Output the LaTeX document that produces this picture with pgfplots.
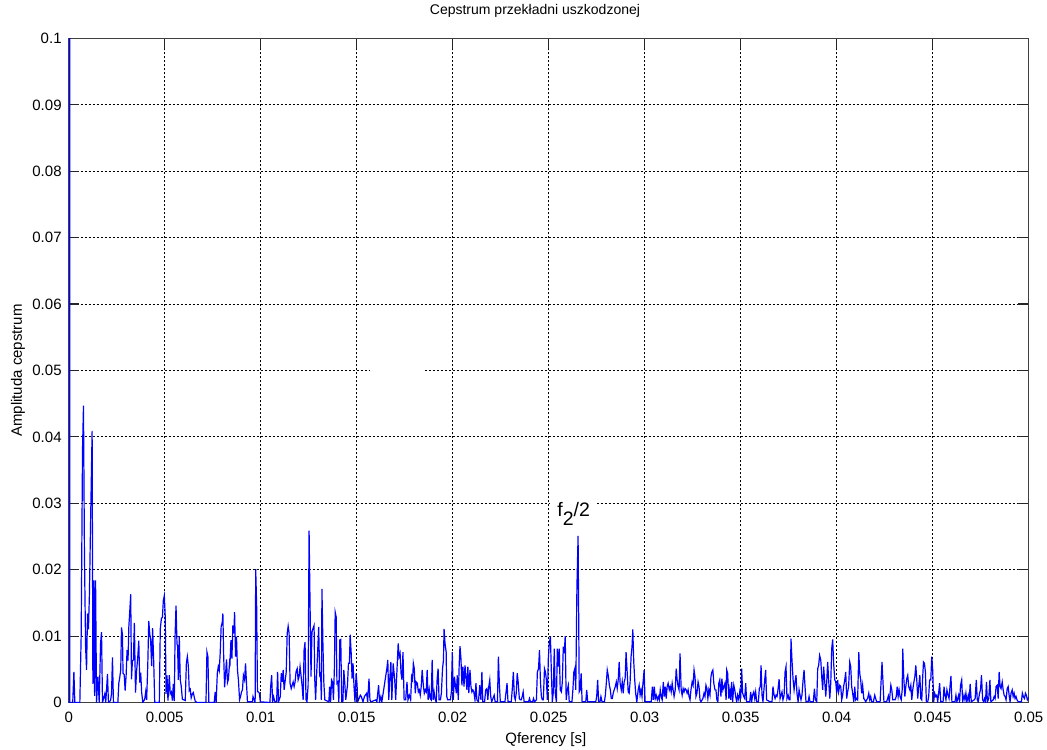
\documentclass[border=0pt]{standalone}
\usepackage{fontspec}
\setmainfont{Liberation Sans}
\usepackage{pgfplots}
\pgfplotsset{compat=1.18}
\begin{document}
\begin{tikzpicture}
\path[use as bounding box] (-34.35pt,-23.25pt) rectangle (489.15pt,351.25pt);
\begin{axis}[
  at={(0pt,0pt)}, anchor=south west,
  scale only axis, width=480pt, height=332pt,
  xmin=0, xmax=0.05, ymin=0, ymax=0.1,
  xtick={0,0.005,0.01,0.015,0.02,0.025,0.03,0.035,0.04,0.045,0.05},
  xticklabels={0,0.005,0.01,0.015,0.02,0.025,0.03,0.035,0.04,0.045,0.05},
  ytick={0,0.01,0.02,0.03,0.04,0.05,0.06,0.07,0.08,0.09,0.1},
  yticklabels={0,0.01,0.02,0.03,0.04,0.05,0.06,0.07,0.08,0.09,0.1},
  scaled ticks=false,
  tick align=inside, tick pos=both,
  major tick length=5.25pt,
  grid=major,
  major grid style={black, line width=0.45pt, dash pattern=on 1pt off 1pt},
  axis line style={black!75, line width=0.75pt},
  tick style={black!85, line width=0.6pt},
  ticklabel style={font=\fontsize{7.5}{9}\selectfont},
  xticklabel style={inner sep=0pt, anchor=north, yshift=-4.75pt},
  yticklabel style={inner sep=0pt, anchor=east, xshift=-3.35pt},
  title={Cepstrum przekładni uszkodzonej},
  title style={font=\fontsize{7}{8.4}\selectfont, at={(0.4857,1.0188)}, anchor=base, inner sep=0pt},
  xlabel={Qferency [s]},
  xlabel style={font=\fontsize{7.5}{9}\selectfont, at={(0.497,-0.061)}, anchor=base, inner sep=0pt},
  ylabel={Amplituda cepstrum},
  ylabel style={font=\fontsize{7.5}{9}\selectfont, at={(-0.04865,0.5)}, anchor=base, rotate=0, inner sep=0pt},
]
\fill[white] (axis cs:0.01571,0.0496) rectangle (axis cs:0.01857,0.0504);
\addplot[color={rgb,255:red,0;green,0;blue,255}, line width=0.6pt, mark=none] coordinates {
(0.00005,0.25) (0.00005,0.0) (0.00021,0.0) (0.00027,0.0046) (0.00032,0.0) (0.00058,0.0)
(0.00065,0.0101) (0.00072,0.0381) (0.00077,0.0447) (0.00082,0.0224) (0.00088,0.0084)
(0.00093,0.0049) (0.00098,0.0134) (0.00103,0.0110) (0.00108,0.0164) (0.00115,0.0289)
(0.00122,0.0409) (0.00126,0.0028) (0.00131,0.0184) (0.00135,0.0010) (0.00140,0.0184)
(0.00145,0.0) (0.00152,0.0039) (0.00159,0.0) (0.00166,0.0089) (0.00171,0.0106)
(0.00176,0.0) (0.00188,0.0013) (0.00193,0.0) (0.00202,0.0043) (0.00207,0.0)
(0.00218,0.0003) (0.00223,0.0013) (0.00228,0.0068) (0.00233,0.0) (0.00256,0.0)
(0.00261,0.0029) (0.00266,0.0038) (0.00271,0.0049) (0.00275,0.0113) (0.00280,0.0102)
(0.00283,0.0044) (0.00289,0.0042) (0.00294,0.0018) (0.00299,0.0040) (0.00304,0.0079)
(0.00309,0.0063) (0.00313,0.0113) (0.00318,0.0137) (0.00323,0.0163) (0.00327,0.0035)
(0.00332,0.0063) (0.00337,0.0064) (0.00342,0.0120) (0.00348,0.0015) (0.00353,0.0045)
(0.00360,0.0070) (0.00365,0.0093) (0.00370,0.0030) (0.00375,0.0045) (0.00380,0.0015)
(0.00386,0.0) (0.00396,0.0005) (0.00401,0.0016) (0.00406,0.0004) (0.00412,0.0058)
(0.00417,0.0123) (0.00422,0.0104) (0.00427,0.0092) (0.00432,0.0055) (0.00437,0.0112)
(0.00443,0.0059) (0.00448,0.0) (0.00472,0.0) (0.00477,0.0111) (0.00483,0.0127)
(0.00488,0.0128) (0.00493,0.0154) (0.00498,0.0161) (0.00503,0.0128) (0.00507,0.0013)
(0.00512,0.0041) (0.00517,0.0003) (0.00524,0.0041) (0.00529,0.0013) (0.00535,0.0016)
(0.00540,0.0003) (0.00545,0.0028) (0.00550,0.0002) (0.00554,0.0100) (0.00559,0.0146)
(0.00564,0.0088) (0.00567,0.0086) (0.00571,0.0034) (0.00576,0.0100) (0.00581,0.0034)
(0.00586,0.0025) (0.00592,0.0005) (0.00607,0.0003) (0.00613,0.0060) (0.00618,0.0069)
(0.00623,0.0055) (0.00628,0.0018) (0.00633,0.0020) (0.00638,0.0007) (0.00644,0.0013)
(0.00649,0.0015) (0.00654,0.0008) (0.00659,0.0002) (0.00668,0.0) (0.00715,0.0)
(0.00720,0.0076) (0.00725,0.0069) (0.00730,0.0) (0.00758,0.0) (0.00763,0.0016)
(0.00768,0.0) (0.00774,0.0044) (0.00779,0.0054) (0.00784,0.0048) (0.00789,0.0074)
(0.00794,0.0114) (0.00800,0.0121) (0.00803,0.0134) (0.00807,0.0072) (0.00812,0.0023)
(0.00817,0.0043) (0.00822,0.0065) (0.00827,0.0030) (0.00832,0.0035) (0.00838,0.0061)
(0.00840,0.0059) (0.00845,0.0094) (0.00850,0.0066) (0.00855,0.0116) (0.00860,0.0104)
(0.00864,0.0136) (0.00869,0.0069) (0.00874,0.0099) (0.00879,0.0049) (0.00884,0.0034)
(0.00890,0.0004) (0.00895,0.0009) (0.00900,0.0016) (0.00905,0.0019) (0.00910,0.0041)
(0.00916,0.0034) (0.00921,0.0059) (0.00926,0.0029) (0.00931,0.0001) (0.00957,0.0001)
(0.00960,0.0009) (0.00966,0.0004) (0.00971,0.0) (0.00974,0.0201) (0.00979,0.0144)
(0.00983,0.0016) (0.00988,0.0016) (0.00993,0.0014) (0.00998,0.0001) (0.01048,0.0)
(0.01052,0.0024) (0.01057,0.0041) (0.01062,0.0001) (0.01067,0.0009) (0.01074,0.0001)
(0.01083,0.0001) (0.01088,0.0046) (0.01093,0.0001) (0.01102,0.0009) (0.01107,0.0044)
(0.01112,0.0031) (0.01117,0.0049) (0.01122,0.0019) (0.01128,0.0034) (0.01133,0.0046)
(0.01138,0.0104) (0.01143,0.0115) (0.01148,0.0104) (0.01153,0.0029) (0.01159,0.0021)
(0.01164,0.0026) (0.01169,0.0031) (0.01174,0.0024) (0.01179,0.0031) (0.01184,0.0046)
(0.01190,0.0051) (0.01195,0.0034) (0.01200,0.0039) (0.01205,0.0054) (0.01210,0.0041)
(0.01216,0.0024) (0.01221,0.0004) (0.01226,0.0079) (0.01231,0.0091) (0.01236,0.0004)
(0.01241,0.0001) (0.01247,0.0026) (0.01252,0.0259) (0.01257,0.0149) (0.01262,0.0039)
(0.01267,0.0106) (0.01272,0.0111) (0.01278,0.0116) (0.01281,0.0039) (0.01286,0.0004)
(0.01291,0.0041) (0.01297,0.0079) (0.01302,0.0114) (0.01307,0.0041) (0.01312,0.0044)
(0.01316,0.0004) (0.01319,0.0171) (0.01324,0.0089) (0.01329,0.0029) (0.01334,0.0004)
(0.01355,0.0001) (0.01359,0.0024) (0.01364,0.0001) (0.01369,0.0034) (0.01374,0.0031)
(0.01379,0.0004) (0.01384,0.0054) (0.01388,0.0136) (0.01393,0.0129) (0.01397,0.0029)
(0.01402,0.0031) (0.01407,0.0001) (0.01412,0.0094) (0.01417,0.0095) (0.01422,0.0001)
(0.01428,0.0001) (0.01433,0.0049) (0.01438,0.0029) (0.01443,0.0004) (0.01452,0.0026)
(0.01457,0.0059) (0.01462,0.0059) (0.01466,0.0102) (0.01471,0.0076) (0.01476,0.0036)
(0.01481,0.0059) (0.01486,0.0024) (0.01491,0.0001) (0.01497,0.0044) (0.01502,0.0026)
(0.01505,0.0001) (0.01519,0.0011) (0.01524,0.0009) (0.01533,0.0001) (0.01540,0.0009)
(0.01552,0.0014) (0.01557,0.0001) (0.01564,0.0036) (0.01569,0.0004) (0.01574,0.0001)
(0.01600,0.0004) (0.01605,0.0001) (0.01614,0.0026) (0.01619,0.0001) (0.01626,0.0009)
(0.01631,0.0001) (0.01657,0.0051) (0.01662,0.0064) (0.01667,0.0004) (0.01672,0.0034)
(0.01678,0.0061) (0.01683,0.0004) (0.01690,0.0059)
(0.01698,0.0034) (0.01703,0.0004) (0.01709,0.0044) (0.01716,0.0089) (0.01721,0.0069)
(0.01726,0.0074) (0.01731,0.0044) (0.01736,0.0034) (0.01741,0.0076) (0.01747,0.0004)
(0.01755,0.0004) (0.01762,0.0031) (0.01767,0.0004) (0.01774,0.0011) (0.01781,0.0004)
(0.01786,0.0039) (0.01791,0.0034) (0.01795,0.0059) (0.01800,0.0051) (0.01805,0.0014)
(0.01810,0.0031) (0.01816,0.0029) (0.01821,0.0016) (0.01826,0.0019) (0.01831,0.0011)
(0.01836,0.0024) (0.01841,0.0049) (0.01847,0.0026) (0.01852,0.0014) (0.01857,0.0019)
(0.01862,0.0016) (0.01867,0.0049) (0.01872,0.0004) (0.01878,0.0019) (0.01883,0.0006)
(0.01888,0.0004) (0.01893,0.0064) (0.01898,0.0004) (0.01903,0.0016) (0.01909,0.0004)
(0.01914,0.0001) (0.01919,0.0036) (0.01924,0.0051) (0.01929,0.0004) (0.01936,0.0004)
(0.01941,0.0014) (0.01947,0.0051) (0.01952,0.0064) (0.01955,0.0111) (0.01960,0.0089)
(0.01966,0.0076) (0.01969,0.0009) (0.01974,0.0004) (0.01988,0.0004) (0.01993,0.0016)
(0.01998,0.0076) (0.02003,0.0004) (0.02009,0.0039) (0.02014,0.0026) (0.02019,0.0014)
(0.02024,0.0041) (0.02029,0.0004) (0.02034,0.0059) (0.02038,0.0085) (0.02043,0.0066)
(0.02048,0.0026) (0.02053,0.0054) (0.02059,0.0024) (0.02064,0.0056) (0.02069,0.0039)
(0.02074,0.0019) (0.02079,0.0054) (0.02084,0.0014) (0.02090,0.0049) (0.02095,0.0024)
(0.02100,0.0016) (0.02105,0.0019) (0.02110,0.0016) (0.02116,0.0004) (0.02121,0.0029)
(0.02126,0.0004) (0.02134,0.0001) (0.02141,0.0026) (0.02147,0.0004) (0.02152,0.0046)
(0.02157,0.0001) (0.02166,0.0001) (0.02172,0.0019) (0.02178,0.0021) (0.02183,0.0004)
(0.02188,0.0024) (0.02193,0.0034) (0.02198,0.0009) (0.02203,0.0001) (0.02216,0.0011)
(0.02221,0.0001) (0.02233,0.0001) (0.02238,0.0069) (0.02243,0.0028) (0.02248,0.0001)
(0.02272,0.0001) (0.02278,0.0016) (0.02283,0.0029) (0.02288,0.0001) (0.02305,0.0001)
(0.02310,0.0019) (0.02316,0.0046) (0.02321,0.0009) (0.02326,0.0004) (0.02331,0.0014)
(0.02336,0.0044) (0.02341,0.0031) (0.02347,0.0006) (0.02352,0.0004) (0.02357,0.0004)
(0.02362,0.0009) (0.02367,0.0016) (0.02372,0.0001) (0.02395,0.0001) (0.02400,0.0006)
(0.02405,0.0001) (0.02416,0.0001) (0.02421,0.0006) (0.02426,0.0001) (0.02436,0.0004)
(0.02441,0.0046) (0.02447,0.0051) (0.02452,0.0079) (0.02457,0.0031) (0.02462,0.0009)
(0.02467,0.0004) (0.02472,0.0004) (0.02478,0.0051) (0.02483,0.0046) (0.02488,0.0034)
(0.02493,0.0004) (0.02498,0.0066) (0.02503,0.0089) (0.02509,0.0099) (0.02514,0.0044)
(0.02519,0.0001) (0.02524,0.0016) (0.02529,0.0081) (0.02534,0.0014) (0.02540,0.0001)
(0.02545,0.0081) (0.02550,0.0054)
(0.02555,0.0081) (0.02560,0.0019) (0.02566,0.0016) (0.02571,0.0031) (0.02576,0.0084)
(0.02581,0.0074) (0.02586,0.0100) (0.02591,0.0004) (0.02597,0.0019) (0.02602,0.0026)
(0.02607,0.0001) (0.02621,0.0001) (0.02626,0.0019) (0.02631,0.0046) (0.02636,0.0051)
(0.02641,0.0019) (0.02647,0.0174) (0.02653,0.0251) (0.02659,0.0016) (0.02664,0.0019)
(0.02669,0.0044) (0.02674,0.0001) (0.02693,0.0001) (0.02698,0.0019) (0.02703,0.0001)
(0.02745,0.0001) (0.02750,0.0009) (0.02755,0.0034) (0.02760,0.0001) (0.02767,0.0001)
(0.02772,0.0009) (0.02778,0.0001) (0.02790,0.0001) (0.02795,0.0011) (0.02800,0.0029)
(0.02805,0.0049) (0.02810,0.0041) (0.02816,0.0026) (0.02821,0.0019) (0.02826,0.0006)
(0.02831,0.0006) (0.02836,0.0014) (0.02841,0.0019) (0.02847,0.0024) (0.02852,0.0031)
(0.02857,0.0021) (0.02862,0.0034) (0.02867,0.0061) (0.02872,0.0029) (0.02878,0.0019)
(0.02883,0.0031) (0.02888,0.0014) (0.02893,0.0031) (0.02898,0.0036) (0.02903,0.0076)
(0.02909,0.0044) (0.02914,0.0016) (0.02919,0.0014) (0.02924,0.0031) (0.02929,0.0069)
(0.02934,0.0084) (0.02938,0.0110) (0.02943,0.0061) (0.02948,0.0034) (0.02953,0.0014)
(0.02959,0.0001) (0.02966,0.0019) (0.02971,0.0026) (0.02976,0.0011) (0.02981,0.0019)
(0.02986,0.0009) (0.02991,0.0029) (0.02997,0.0049) (0.03002,0.0001) (0.03034,0.0001)
(0.03040,0.0024) (0.03045,0.0004) (0.03050,0.0024) (0.03055,0.0006) (0.03060,0.0011)
(0.03066,0.0004) (0.03071,0.0009) (0.03076,0.0004) (0.03081,0.0019) (0.03086,0.0009)
(0.03091,0.0004) (0.03097,0.0031) (0.03102,0.0009) (0.03107,0.0024) (0.03112,0.0006)
(0.03117,0.0024) (0.03122,0.0029) (0.03128,0.0019) (0.03133,0.0024) (0.03138,0.0016)
(0.03143,0.0029) (0.03148,0.0019) (0.03153,0.0009) (0.03159,0.0019) (0.03164,0.0051)
(0.03169,0.0034) (0.03174,0.0024) (0.03179,0.0019) (0.03184,0.0074) (0.03190,0.0019)
(0.03195,0.0011) (0.03200,0.0021) (0.03205,0.0016) (0.03210,0.0021) (0.03216,0.0019)
(0.03221,0.0014) (0.03226,0.0019) (0.03231,0.0009) (0.03236,0.0004) (0.03241,0.0019)
(0.03247,0.0031) (0.03252,0.0026) (0.03257,0.0049) (0.03262,0.0039) (0.03267,0.0009)
(0.03272,0.0014) (0.03278,0.0031) (0.03283,0.0024) (0.03288,0.0004) (0.03293,0.0001)
(0.03303,0.0006) (0.03309,0.0014) (0.03314,0.0009) (0.03319,0.0026) (0.03324,0.0021)
(0.03329,0.0006) (0.03334,0.0019) (0.03340,0.0011) (0.03345,0.0039) (0.03350,0.0046)
(0.03355,0.0049) (0.03360,0.0029) (0.03366,0.0019) (0.03371,0.0019) (0.03376,0.0004)
(0.03381,0.0001) (0.03386,0.0029) (0.03391,0.0034) (0.03397,0.0009) (0.03402,0.0036)
(0.03407,0.0019)
(0.03418,0.0029) (0.03424,0.0004) (0.03427,0.0049) (0.03432,0.0044) (0.03438,0.0006)
(0.03443,0.0019) (0.03448,0.0004) (0.03453,0.0031) (0.03458,0.0001) (0.03464,0.0026)
(0.03469,0.0019) (0.03474,0.0009) (0.03479,0.0001) (0.03484,0.0011) (0.03490,0.0004)
(0.03495,0.0016) (0.03500,0.0006) (0.03505,0.0051) (0.03510,0.0014) (0.03516,0.0009)
(0.03521,0.0006) (0.03526,0.0029) (0.03531,0.0001) (0.03547,0.0001) (0.03552,0.0016)
(0.03557,0.0001) (0.03562,0.0011) (0.03568,0.0016) (0.03573,0.0006) (0.03578,0.0016)
(0.03583,0.0001) (0.03592,0.0001) (0.03597,0.0021) (0.03602,0.0024) (0.03606,0.0056)
(0.03611,0.0011) (0.03616,0.0001) (0.03625,0.0034) (0.03630,0.0049) (0.03635,0.0004)
(0.03653,0.0001) (0.03663,0.0001) (0.03668,0.0024) (0.03674,0.0011) (0.03679,0.0006)
(0.03684,0.0011) (0.03689,0.0009) (0.03694,0.0019) (0.03700,0.0035) (0.03705,0.0006)
(0.03710,0.0011) (0.03715,0.0016) (0.03720,0.0004) (0.03726,0.0011) (0.03731,0.0046)
(0.03736,0.0054) (0.03741,0.0006) (0.03747,0.0011) (0.03752,0.0004) (0.03757,0.0004)
(0.03762,0.0096) (0.03767,0.0064) (0.03773,0.0034) (0.03778,0.0019) (0.03783,0.0031)
(0.03788,0.0041) (0.03793,0.0014) (0.03799,0.0001) (0.03804,0.0019) (0.03809,0.0011)
(0.03814,0.0004) (0.03819,0.0011) (0.03825,0.0034) (0.03830,0.0049) (0.03835,0.0024)
(0.03840,0.0001) (0.03851,0.0001) (0.03856,0.0009) (0.03861,0.0001) (0.03878,0.0001)
(0.03884,0.0021) (0.03889,0.0004) (0.03896,0.0001) (0.03901,0.0051) (0.03906,0.0056)
(0.03911,0.0071) (0.03917,0.0064) (0.03922,0.0039) (0.03927,0.0019) (0.03932,0.0054)
(0.03937,0.0034) (0.03943,0.0009) (0.03948,0.0031) (0.03953,0.0061) (0.03958,0.0034)
(0.03964,0.0006) (0.03969,0.0029) (0.03974,0.0081) (0.03979,0.0095) (0.03984,0.0059)
(0.03990,0.0034) (0.03995,0.0031) (0.04000,0.0014) (0.04005,0.0034) (0.04010,0.0016)
(0.04016,0.0026) (0.04021,0.0024) (0.04026,0.0004) (0.04031,0.0011) (0.04036,0.0024)
(0.04042,0.0034) (0.04047,0.0046) (0.04052,0.0006) (0.04057,0.0016) (0.04062,0.0024)
(0.04068,0.0061) (0.04073,0.0054) (0.04078,0.0024) (0.04083,0.0014) (0.04089,0.0001)
(0.04094,0.0024) (0.04099,0.0004) (0.04104,0.0006) (0.04109,0.0004) (0.04115,0.0076)
(0.04120,0.0044) (0.04125,0.0034) (0.04130,0.0014) (0.04135,0.0026) (0.04141,0.0006)
(0.04146,0.0004) (0.04151,0.0001) (0.04156,0.0004) (0.04161,0.0006) (0.04167,0.0014)
(0.04172,0.0004) (0.04177,0.0009) (0.04182,0.0001) (0.04191,0.0001) (0.04198,0.0011)
(0.04203,0.0006) (0.04208,0.0001) (0.04226,0.0001) (0.04231,0.0031) (0.04236,0.0061)
(0.04241,0.0031) (0.04246,0.0001) (0.04260,0.0001) (0.04269,0.0010) (0.04274,0.0001)
(0.04282,0.0026) (0.04287,0.0019) (0.04292,0.0004) (0.04304,0.0004) (0.04310,0.0009)
(0.04315,0.0024) (0.04320,0.0009) (0.04325,0.0019) (0.04330,0.0009) (0.04336,0.0004)
(0.04341,0.0019) (0.04344,0.0081) (0.04349,0.0039) (0.04355,0.0009) (0.04360,0.0024)
(0.04365,0.0036) (0.04370,0.0041) (0.04375,0.0024) (0.04381,0.0019) (0.04386,0.0026)
(0.04391,0.0004) (0.04396,0.0019) (0.04401,0.0029) (0.04407,0.0039) (0.04412,0.0056)
(0.04417,0.0034) (0.04422,0.0006) (0.04427,0.0024) (0.04433,0.0041) (0.04438,0.0006)
(0.04443,0.0004) (0.04448,0.0039) (0.04452,0.0061) (0.04457,0.0059) (0.04462,0.0046)
(0.04467,0.0001) (0.04474,0.0001) (0.04479,0.0009) (0.04484,0.0034) (0.04490,0.0034)
(0.04495,0.0069) (0.04500,0.0049) (0.04505,0.0001) (0.04510,0.0014) (0.04516,0.0009)
(0.04521,0.0011) (0.04526,0.0001) (0.04531,0.0014) (0.04536,0.0029) (0.04542,0.0001)
(0.04554,0.0001) (0.04559,0.0024) (0.04564,0.0011) (0.04569,0.0004) (0.04574,0.0019)
(0.04580,0.0011) (0.04585,0.0006) (0.04590,0.0024) (0.04595,0.0040) (0.04600,0.0001)
(0.04616,0.0001) (0.04621,0.0011) (0.04626,0.0001) (0.04635,0.0011) (0.04640,0.0001)
(0.04645,0.0026) (0.04651,0.0034) (0.04656,0.0001) (0.04663,0.0011) (0.04668,0.0004)
(0.04673,0.0014) (0.04678,0.0001) (0.04685,0.0011) (0.04690,0.0001) (0.04695,0.0028)
(0.04701,0.0001) (0.04716,0.0004) (0.04721,0.0006) (0.04727,0.0034) (0.04732,0.0004)
(0.04737,0.0001) (0.04744,0.0014) (0.04749,0.0019) (0.04754,0.0041) (0.04760,0.0004)
(0.04765,0.0001) (0.04770,0.0006) (0.04775,0.0001) (0.04780,0.0031) (0.04785,0.0001)
(0.04792,0.0006) (0.04798,0.0034) (0.04803,0.0001) (0.04815,0.0004) (0.04820,0.0009)
(0.04825,0.0006) (0.04830,0.0024) (0.04836,0.0026) (0.04841,0.0006) (0.04846,0.0046)
(0.04851,0.0024) (0.04856,0.0021) (0.04862,0.0031) (0.04867,0.0019) (0.04872,0.0011)
(0.04877,0.0009) (0.04882,0.0004) (0.04888,0.0021) (0.04893,0.0024) (0.04898,0.0011)
(0.04903,0.0001) (0.04908,0.0014) (0.04914,0.0019) (0.04919,0.0009) (0.04924,0.0014)
(0.04929,0.0006) (0.04934,0.0009) (0.04939,0.0004) (0.04946,0.0001) (0.04962,0.0001)
(0.04967,0.0014) (0.04972,0.0009) (0.04978,0.0006) (0.04983,0.0014) (0.04988,0.0011)
(0.04993,0.0004) (0.05000,0.0008)
};
\node[anchor=base west, inner xsep=3.5pt, inner ysep=2.5pt, fill=white, font=\fontsize{9.75}{11}\selectfont] at (axis cs:0.02507,0.02794) {f\raisebox{-4.35pt}{2}/2};
\end{axis}
\end{tikzpicture}
\end{document}
